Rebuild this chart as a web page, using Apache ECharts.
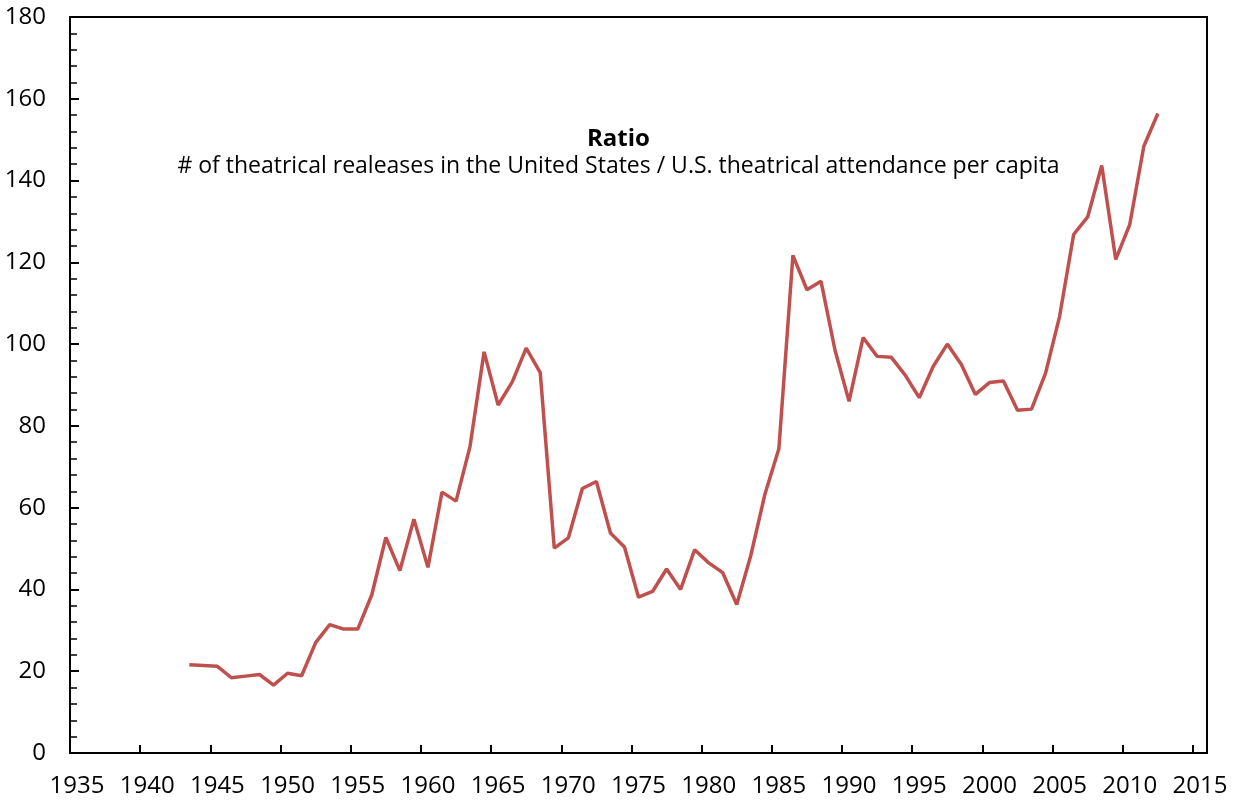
<!DOCTYPE html>
<html>
<head>
<meta charset="utf-8">
<script src="https://cdn.jsdelivr.net/npm/echarts@6/dist/echarts.min.js"></script>
<style>
  html, body { margin: 0; padding: 0; background: #fff; }
  #chart { width: 1237px; height: 801px; }
</style>
</head>
<body>
<div id="chart"></div>
<script>
// years on the category axis (one slot per year)
const years = [];
for (let y = 1935; y <= 2015; y++) years.push(String(y));

// ratio values, 1943 - 2012
const dataYears = [
  1943, 1944, 1945, 1946, 1947, 1948, 1949, 1950, 1951, 1952,
  1953, 1954, 1955, 1956, 1957, 1958, 1959, 1960, 1961, 1962,
  1963, 1964, 1965, 1966, 1967, 1968, 1969, 1970, 1971, 1972,
  1973, 1974, 1975, 1976, 1977, 1978, 1979, 1980, 1981, 1982,
  1983, 1984, 1985, 1986, 1987, 1988, 1989, 1990, 1991, 1992,
  1993, 1994, 1995, 1996, 1997, 1998, 1999, 2000, 2001, 2002,
  2003, 2004, 2005, 2006, 2007, 2008, 2009, 2010, 2011, 2012
];
const ratio = [
  21.6, 21.4, 21.2, 18.4, 18.8, 19.2, 16.6, 19.5, 18.9, 27.0,
  31.4, 30.3, 30.3, 38.7, 52.7, 44.6, 57.2, 45.4, 63.8, 61.6,
  75.0, 98.1, 85.1, 90.7, 99.0, 93.0, 50.1, 52.6, 64.7, 66.4,
  53.8, 50.4, 38.1, 39.5, 45.0, 40.0, 49.7, 46.5, 44.1, 36.3,
  48.3, 63.2, 74.4, 121.7, 113.3, 115.4, 98.5, 86.0, 101.6, 97.0,
  96.8, 92.4, 86.9, 94.6, 100.0, 95.0, 87.7, 90.6, 91.0, 83.8,
  84.1, 92.9, 106.8, 126.8, 131.1, 143.7, 120.7, 129.3, 148.4, 156.4
];

const seriesData = dataYears.map((y, i) => [String(y), ratio[i]]);

const font = '"Open Sans", Calibri, sans-serif';
const lineColor = '#C0504D';

const chart = echarts.init(document.getElementById('chart'));

const option = {
  backgroundColor: '#fff',
  animation: false,
  title: [{
    text: 'Ratio',
    left: 'center',
    top: 122,
    textStyle: { fontFamily: font, fontSize: 24, fontWeight: 'bold', color: '#000' }
  }, {
    text: '# of theatrical realeases in the United States / U.S. theatrical attendance per capita',
    left: 'center',
    top: 150,
    textStyle: { fontFamily: font, fontSize: 23, fontWeight: 'normal', color: '#000' }
  }],
  grid: {
    left: 70, right: 30, top: 17, bottom: 48,
    show: true,
    borderColor: '#000',
    borderWidth: 2
  },
  xAxis: {
    type: 'category',
    data: years,
    boundaryGap: true,
    axisLine: { lineStyle: { color: '#000', width: 2 } },
    axisTick: {
      show: true, inside: true, length: 8, alignWithLabel: false,
      interval: (idx) => idx % 5 === 0,
      lineStyle: { color: '#000', width: 2 }
    },
    axisLabel: { interval: 4, margin: 21, fontFamily: font, fontSize: 24, color: '#000' },
    splitLine: { show: false }
  },
  yAxis: {
    type: 'value',
    min: 0,
    max: 180,
    interval: 20,
    axisLine: { show: true, lineStyle: { color: '#000', width: 2 } },
    axisTick: { show: true, inside: true, length: 9, lineStyle: { color: '#000', width: 2 } },
    minorTick: { show: true, splitNumber: 5, length: 7, lineStyle: { color: '#000', width: 1.5 } },
    axisLabel: { margin: 24, fontFamily: font, fontSize: 24, color: '#000' },
    splitLine: { show: false }
  },
  series: [{
    type: 'line',
    data: seriesData,
    symbol: 'none',
    lineStyle: { color: lineColor, width: 3.5 },
    itemStyle: { color: lineColor }
  }]
};

chart.setOption(option);
</script>
</body>
</html>
